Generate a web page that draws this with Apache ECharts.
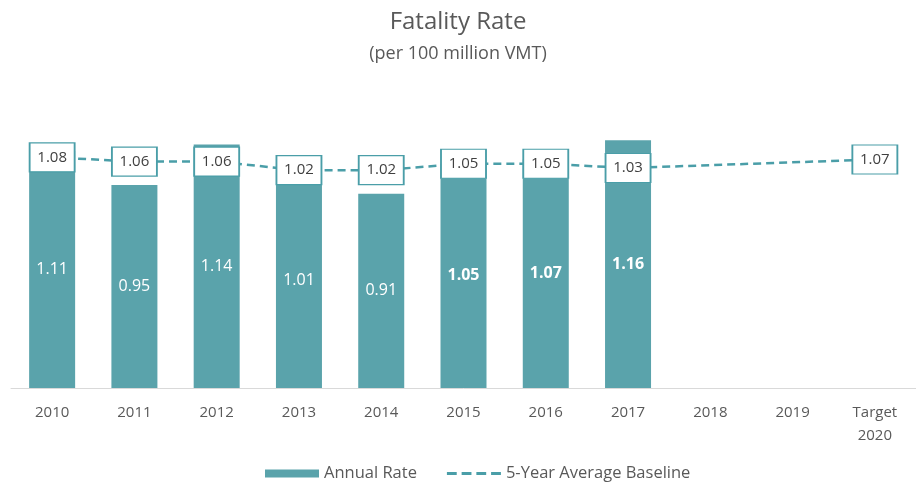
<!DOCTYPE html>
<html>
<head>
<meta charset="utf-8">
<script src="https://cdn.jsdelivr.net/npm/echarts@6/dist/echarts.min.js"></script>
<style>
  html, body { margin: 0; padding: 0; background: #fff; }
  #chart { width: 916px; height: 487px; }
</style>
</head>
<body>
<div id="chart"></div>
<script>
// 数据
var years = ['2010', '2011', '2012', '2013', '2014', '2015', '2016', '2017', '2018', '2019', 'Target\n2020'];
var annualRate = [1.11, 0.95, 1.14, 1.01, 0.91, 1.05, 1.07, 1.16, null, null, null];
var baseline = [1.08, 1.06, 1.06, 1.02, 1.02, 1.05, 1.05, 1.03, null, null, 1.07];
var boldYears = ['2015', '2016', '2017']; // 加粗的标签

var teal = '#5aa3ab';
var lineTeal = '#4a9ea8';
var grey = '#595959';
var font = 'Open Sans';

var barData = annualRate.map(function(v, i) {
    var item = { value: v };
    if (boldYears.indexOf(years[i]) >= 0) {
        item.label = { fontWeight: 'bold' };
    }
    return item;
});

var myChart = echarts.init(document.getElementById('chart'));
var option = {
    backgroundColor: '#fff',
    title: {
        text: 'Fatality Rate',
        subtext: '(per 100 million VMT)',
        left: 'center',
        top: 5,
        itemGap: 11,
        textStyle: { fontFamily: font, fontSize: 24, fontWeight: 'normal', color: grey },
        subtextStyle: { fontFamily: font, fontSize: 18, color: grey }
    },
    legend: {
        bottom: 0,
        left: 260,
        itemWidth: 54,
        itemHeight: 8,
        itemGap: 30,
        textStyle: { fontFamily: font, fontSize: 16.5, color: grey },
        data: [
            { name: 'Annual Rate', icon: 'rect' },
            {
                name: '5-Year Average Baseline',
                icon: 'path://M0,0h10v3h-10z M15,0h10v3h-10z M30,0h10v3h-10z M45,0h10v3h-10z',
                itemStyle: { color: lineTeal, borderWidth: 0 }
            }
        ]
    },
    grid: { left: 11, right: -6, top: 89, bottom: 99 },
    xAxis: {
        type: 'category',
        data: years,
        axisLine: { lineStyle: { color: '#d9d9d9', width: 1 } },
        axisTick: { show: false },
        axisLabel: { fontFamily: font, fontSize: 15, color: grey, margin: 13, lineHeight: 23 }
    },
    yAxis: {
        type: 'value',
        min: 0,
        max: 1.4,
        show: false,
        splitLine: { show: false }
    },
    series: [
        {
            name: 'Annual Rate',
            type: 'bar',
            barWidth: 46,
            data: barData,
            itemStyle: { color: teal },
            label: {
                show: true,
                position: 'inside',
                color: '#fff',
                fontFamily: font,
                fontSize: 16
            },
            z: 1
        },
        {
            name: '5-Year Average Baseline',
            type: 'line',
            data: baseline,
            connectNulls: true,
            symbol: 'rect',
            symbolSize: [45, 29],
            showAllSymbol: true,
            lineStyle: { color: lineTeal, width: 2.5, type: [8, 5] },
            itemStyle: { color: '#fff', borderColor: lineTeal, borderWidth: 1.5 },
            label: {
                show: true,
                position: 'inside',
                color: '#404040',
                fontFamily: font,
                fontSize: 15
            },
            emphasis: { disabled: true },
            z: 3
        }
    ]
};
myChart.setOption(option);
</script>
</body>
</html>
